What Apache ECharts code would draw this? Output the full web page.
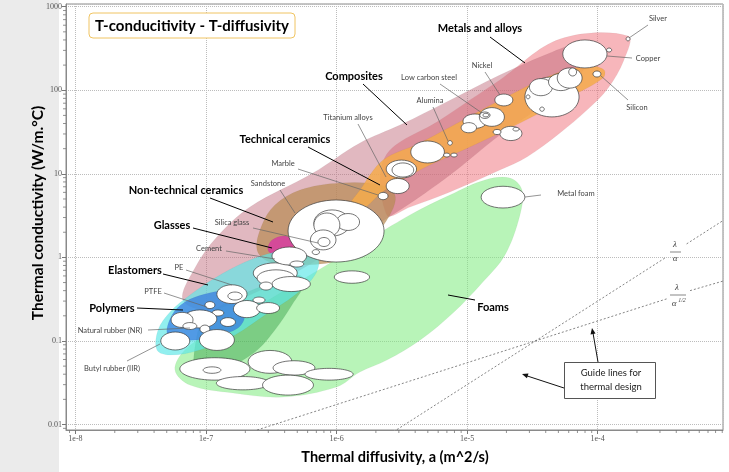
<!DOCTYPE html>
<html>
<head>
<meta charset="utf-8">
<script src="https://cdn.jsdelivr.net/npm/echarts/dist/echarts.min.js"></script>
<style>
  html, body { margin: 0; padding: 0; }
  #c { width: 729px; height: 472px; background: linear-gradient(to right, #ebebeb 0px, #ebebeb 59px, #ffffff 59px); }
</style>
</head>
<body>
<div id="c"></div>
<script>
// ---------------- axis extents & tick labels ----------------
const X_MIN = 8.46e-9, X_MAX = 9.12e-4;
const Y_MIN = 0.0086, Y_MAX = 1077;
const xTickValues = [1e-8, 1e-7, 1e-6, 1e-5, 1e-4];
const xTickLabels = ['1e-8', '1e-7', '1e-6', '1e-5', '1e-4'];
const yTickValues = [0.01, 0.1, 1, 10, 100, 1000];
const yTickLabels = ['0.01', '0.1', '1', '10', '100', '1000'];
const minorMantissas = [2, 3, 4, 5, 6, 7, 8, 9];
const xDecades = [1e-9, 1e-8, 1e-7, 1e-6, 1e-5, 1e-4];
const yDecades = [0.001, 0.01, 0.1, 1, 10, 100];

// ---------------- family envelopes: [diffusivity a (m2/s), conductivity (W/m.C)] ----------------
const envMetals = [[2.35e-6,15.9],[6.2e-6,44],[1.78e-5,133],[5.14e-5,410],[1.71e-4,446],[1.59e-4,230],[1.2e-4,106],[8.28e-5,58],[5.14e-5,30.8],[2.87e-5,15.9],[1.78e-5,11.1],[7.39e-6,6.06],[3.65e-6,4.0],[2.43e-6,3.22]];
const envComposites = [[6.65e-8,0.309],[8.22e-8,0.746],[1.21e-7,1.75],[2.17e-7,4.0],[6.59e-7,10.2],[1.51e-6,23.4],[3.06e-6,38.3],[7.39e-6,76],[1.78e-5,152],[3.95e-5,264],[6.7e-5,348],[8.72e-5,303],[7.3e-5,152],[4.31e-5,76],[1.78e-5,29.1],[7.39e-6,9.67],[3.06e-6,3.69],[1.27e-6,1.61],[5.25e-7,0.706],[2.17e-7,0.354],[1.07e-7,0.234]];
const envNonTechCeramics = [[2.46e-7,1.23],[2.68e-7,2.44],[3.37e-7,4.24],[5.25e-7,6.4],[1.06e-6,7.78],[2.15e-6,7.37],[2.8e-6,5.58],[2.56e-6,3.22],[1.8e-6,1.61],[1.06e-6,0.93],[5.25e-7,0.81],[3.09e-7,0.878]];
const envTechCeramics = [[1.16e-6,3.5],[1.51e-6,6.4],[2.27e-6,14.6],[4.35e-6,23.4],[9.3e-6,44],[2.13e-5,87.7],[4.88e-5,161],[8.72e-5,195],[1.12e-4,175],[1.1e-4,140],[6.13e-5,83],[2.54e-5,40.5],[1.05e-5,20.9],[4.35e-6,11.1],[2.35e-6,6.4],[1.65e-6,3.9],[1.27e-6,2.96]];
const envFoams = [[5.78e-8,0.045],[6.89e-8,0.078],[1.17e-7,0.135],[2.59e-7,0.269],[6.26e-7,0.615],[1.51e-6,1.41],[3.65e-6,3.22],[7.39e-6,5.58],[1.37e-5,8.44],[2.13e-5,8.9],[2.63e-5,6.4],[2.54e-5,3.22],[1.95e-5,1.07],[1.32e-5,0.507],[7.79e-6,0.216],[4.35e-6,0.102],[2.43e-6,0.059],[1.51e-6,0.0425],[1.0e-6,0.0281],[3.89e-7,0.0213],[1.61e-7,0.0238],[7.53e-8,0.0297]];
const envNatural = [[8.5e-8,0.0425],[8.38e-8,0.102],[9.8e-8,0.188],[1.53e-7,0.305],[2.83e-7,0.466],[5.06e-7,0.615],[5.73e-7,0.507],[4.55e-7,0.269],[3.37e-7,0.135],[2.37e-7,0.0737],[1.4e-7,0.047]];
const envGlasses = [[2.98e-7,1.23],[3.2e-7,1.61],[4.03e-7,1.8],[4.8e-7,1.53],[4.24e-7,1.16],[3.37e-7,1.07]];
const envElastomers = [[4.21e-8,0.078],[4.29e-8,0.135],[5.3e-8,0.222],[7.53e-8,0.354],[1.17e-7,0.566],[1.99e-7,0.878],[3.37e-7,1.16],[5.25e-7,1.23],[7.2e-7,0.98],[6.83e-7,0.615],[4.8e-7,0.354],[2.83e-7,0.204],[1.67e-7,0.118],[8.98e-8,0.078],[5.3e-8,0.068]];
const envPolymers = [[5.1e-8,0.118],[5.48e-8,0.204],[6.89e-8,0.292],[9.8e-8,0.364],[1.4e-7,0.395],[1.82e-7,0.326],[1.99e-7,0.204],[1.76e-7,0.143],[1.17e-7,0.114],[7.53e-8,0.102]];

// ---------------- material bubbles: [aMin, aMax, kMin, kMax] ----------------
const metalBubbles = [
  [5.4e-5,1.18e-4,185,400],[1.17e-4,1.28e-4,287,320],[1.65e-4,1.77e-4,390,435],[9.2e-5,1.06e-4,144,170],
  [2.77e-5,7.2e-5,48,144],[3.0e-5,4.5e-5,86,138],[4.2e-5,6.5e-5,99,159],[4.9e-5,7.6e-5,106,185],
  [6.0e-5,6.9e-5,148,185],[2.83e-5,3.03e-5,79,88],[3.6e-5,3.9e-5,56,63],[1.63e-5,2.24e-5,65,90],
  [9.3e-6,1.42e-5,35,52],[9.0e-6,1.18e-5,31,41],[1.24e-5,1.93e-5,37,62],[1.25e-5,1.5e-5,46,55],
  [1.32e-5,1.47e-5,48,53],[1.78e-5,2.63e-5,25,37],[1.58e-5,1.82e-5,29.5,34],[2.24e-5,2.5e-5,32.5,36]
];
const ceramicBubbles = [
  [7.1e-6,7.7e-6,22,25],[3.7e-6,6.7e-6,13.5,24.7],[6.6e-6,7.4e-6,15.9,17.7],[7.5e-6,8.4e-6,15.9,17.7],
  [2.4e-6,4.1e-6,8.9,14.6],[2.66e-6,3.9e-6,9.15,13.5],[2.4e-6,3.6e-6,5.8,8.8],[2.08e-6,2.48e-6,4.9,6.0],
  [4.25e-7,2.31e-6,0.88,4.86],[6.7e-7,1.27e-6,1.8,3.7],[1.0e-6,1.5e-6,2.1,3.35],[6.7e-7,1.06e-6,1.75,3.4],
  [6.3e-7,9.9e-7,1.23,2.13],[7.2e-7,8.9e-7,1.35,1.73],[6.5e-7,7.4e-7,1.08,1.24],
  [3.2e-7,5.9e-7,0.81,1.33],[4.4e-7,5.6e-7,0.767,0.905]
];
const polymerBubbles = [
  [2.3e-7,5.0e-7,0.49,0.86],[2.46e-7,4.8e-7,0.45,0.71],[3.2e-7,6.3e-7,0.39,0.59],[2.57e-7,3.23e-7,0.407,0.507],
  [9.6e-7,1.79e-6,0.49,0.69],[1.21e-7,2.06e-7,0.28,0.47],[1.47e-7,1.89e-7,0.309,0.385],[2.29e-7,2.83e-7,0.284,0.335],
  [1.62e-7,2.61e-7,0.19,0.305],[2.44e-7,3.66e-7,0.213,0.288],[9.8e-8,1.17e-7,0.244,0.296],[1.11e-7,1.37e-7,0.199,0.235],
  [6.65e-8,1.21e-7,0.143,0.235],[5.4e-8,7.95e-8,0.145,0.22],[1.29e-7,1.68e-7,0.149,0.19],[6.65e-8,8.5e-8,0.137,0.166],
  [8.98e-8,1.07e-7,0.124,0.155],[8.9e-8,1.65e-7,0.077,0.137],[4.5e-8,7.5e-8,0.078,0.128]
];
const foamBubbles = [
  [6.3e-8,2.17e-7,0.034,0.063],[9.5e-8,1.3e-7,0.041,0.049],[2.1e-7,4.55e-7,0.041,0.077],[3.26e-7,6.83e-7,0.039,0.058],
  [5.73e-7,1.34e-6,0.034,0.047],[1.2e-7,3.06e-7,0.026,0.0375],[2.71e-7,6.65e-7,0.0225,0.039],[1.28e-5,2.77e-5,3.9,7.1]
];

// ---------------- guide lines ----------------
const guideKOverA_1 = [[2.9e-6,0.0087],[3.3e-4,0.99]];
const guideKOverA_2 = [[4.8e-4,1.45],[9.1e-4,2.75]];
const guideKOverSqrtA_1 = [[2.46e-7,0.0086],[3.4e-4,0.32]];
const guideKOverSqrtA_2 = [[5.1e-4,0.4],[9.1e-4,0.52]];

// ---------------- build ----------------
const envelopes = [
  { pts: envMetals, fill: 'rgba(240,115,125,0.52)' },
  { pts: envComposites, fill: 'rgba(190,100,118,0.46)' },
  { pts: envNonTechCeramics, fill: 'rgba(185,140,85,0.72)' },
  { pts: envTechCeramics, fill: 'rgba(245,170,75,0.85)' },
  { pts: envFoams, fill: 'rgba(125,235,125,0.55)' },
  { pts: envNatural, fill: 'rgba(40,150,60,0.42)' },
  { pts: envGlasses, fill: 'rgba(215,60,160,0.85)' },
  { pts: envElastomers, fill: 'rgba(95,232,232,0.68)' },
  { pts: envPolymers, fill: 'rgba(55,120,225,0.72)' }
];
const bubbles = [].concat(foamBubbles, polymerBubbles, ceramicBubbles, metalBubbles);

const xMinorTicks = [];
xDecades.forEach(d => minorMantissas.forEach(m => { const v = d * m; if (v > X_MIN && v < X_MAX) xMinorTicks.push([v, Y_MIN]); }));
const yMinorTicks = [];
yDecades.forEach(d => minorMantissas.forEach(m => { const v = d * m; if (v > Y_MIN && v < Y_MAX) yMinorTicks.push([X_MIN, v]); }));

function nearestLabel(v, vals, labels) {
  const lv = Math.log10(v);
  for (let i = 0; i < vals.length; i++) if (Math.abs(Math.log10(vals[i]) - lv) < 0.01) return labels[i];
  return '';
}

const FONT = 'Lato, "Open Sans", sans-serif';
const SERIF = '"Liberation Serif", "DejaVu Serif", serif';

function txt(text, x, y, opts) {
  opts = opts || {};
  return { type: 'text', x: x, y: y, rotation: opts.rot || 0, z: 50, silent: true,
    style: { text: text, fill: opts.color || '#000', font: opts.font || ('bold 11px ' + FONT),
      align: opts.align || 'center', verticalAlign: 'middle', textAlign: opts.align || 'center', textVerticalAlign: 'middle' } };
}
function ln(x1, y1, x2, y2, color, w) {
  return { type: 'line', z: 49, silent: true, shape: { x1, y1, x2, y2 }, style: { stroke: color || '#000', lineWidth: w || 1 } };
}
function poly(points, color) {
  return { type: 'polygon', z: 49, silent: true, shape: { points }, style: { fill: color || '#000' } };
}

const famFont = 'bold 11px ' + FONT;
const matFont = '7.5px ' + FONT;
const matColor = '#444';
const leadGray = '#666';

const graphics = [
  // title box
  { type: 'rect', z: 48, silent: true, shape: { x: 89, y: 13, width: 206, height: 25, r: 4 }, style: { fill: '#fff', stroke: '#f0c462', lineWidth: 1 } },
  txt('T-conducitivity - T-diffusivity', 192, 26, { font: 'bold 15px ' + FONT }),
  // axis titles
  txt('Thermal conductivity (W/m.°C)', 38, 213, { font: 'bold 15.5px ' + FONT, rot: Math.PI / 2 }),
  txt('Thermal diffusivity, a (m^2/s)', 395, 457, { font: 'bold 14.5px ' + FONT }),
  // family labels
  txt('Metals and alloys', 480, 28, { font: famFont }), ln(490, 37, 525, 63),
  txt('Composites', 354, 76, { font: famFont }), ln(363, 84, 407, 125),
  txt('Technical ceramics', 285, 139, { font: famFont }), ln(308, 147, 380, 185),
  txt('Non-technical ceramics', 186, 190, { font: famFont }), ln(210, 198, 273, 222),
  txt('Glasses', 172, 225, { font: famFont }), ln(193, 228, 272, 248),
  txt('Elastomers', 135, 270, { font: famFont }), ln(163, 274, 208, 285),
  txt('Polymers', 112, 308, { font: famFont }), ln(137, 308, 183, 310),
  txt('Foams', 493, 307, { font: famFont }), ln(475, 300, 448, 295),
  // material labels
  txt('Silver', 658, 19, { font: matFont, color: matColor }), ln(648, 25, 629, 38, leadGray, 0.7),
  txt('Copper', 648, 59, { font: matFont, color: matColor }), ln(607, 56, 632, 58, leadGray, 0.7),
  txt('Silicon', 637, 108, { font: matFont, color: matColor }), ln(628, 100, 601, 76, leadGray, 0.7),
  txt('Nickel', 482, 66, { font: matFont, color: matColor }), ln(485, 72, 500, 95, leadGray, 0.7),
  txt('Low carbon steel', 429, 78, { font: matFont, color: matColor }), ln(440, 84, 482, 113, leadGray, 0.7),
  txt('Alumina', 430, 101, { font: matFont, color: matColor }), ln(433, 107, 448, 141, leadGray, 0.7),
  txt('Titanium alloys', 348, 118, { font: matFont, color: matColor }), ln(358, 124, 386, 177, leadGray, 0.7),
  txt('Marble', 283, 164, { font: matFont, color: matColor }), ln(298, 169, 378, 195, leadGray, 0.7),
  txt('Sandstone', 268, 184, { font: matFont, color: matColor }), ln(280, 190, 295, 213, leadGray, 0.7),
  txt('Silica glass', 232, 223, { font: matFont, color: matColor }), ln(253, 228, 318, 243, leadGray, 0.7),
  txt('Cement', 209, 249, { font: matFont, color: matColor }), ln(226, 251, 275, 259, leadGray, 0.7),
  txt('PE', 179, 268, { font: matFont, color: matColor }), ln(186, 270, 232, 285, leadGray, 0.7),
  txt('PTFE', 153, 292, { font: matFont, color: matColor }), ln(164, 293, 207, 307, leadGray, 0.7),
  txt('Natural rubber (NR)', 110, 331, { font: matFont, color: matColor }), ln(148, 330, 190, 328, leadGray, 0.7),
  txt('Butyl rubber (IIR)', 112, 369, { font: matFont, color: matColor }), ln(127, 361, 160, 344, leadGray, 0.7),
  txt('Metal foam', 576, 194, { font: matFont, color: matColor }), ln(525, 197, 541, 195, leadGray, 0.7),
  // guide line labels
  txt('λ', 675, 245, { font: 'italic 9px ' + SERIF, color: '#444' }), ln(670, 252, 681, 252, '#555', 0.7),
  txt('α', 675, 259, { font: 'italic 9px ' + SERIF, color: '#444' }),
  txt('λ', 677, 288, { font: 'italic 9px ' + SERIF, color: '#444' }), ln(670, 295, 686, 295, '#555', 0.7),
  txt('α', 674, 304, { font: 'italic 9px ' + SERIF, color: '#444' }),
  txt('1/2', 682, 300, { font: 'italic 6px ' + SERIF, color: '#444' }),
  // guide box and arrows
  { type: 'rect', z: 48, silent: true, shape: { x: 564.5, y: 362.5, width: 91, height: 36 }, style: { fill: '#fff', stroke: '#555', lineWidth: 1 } },
  txt('Guide lines for', 611, 373, { font: '9.5px ' + FONT, color: '#222' }),
  txt('thermal design', 611, 387, { font: '9.5px ' + FONT, color: '#222' }),
  ln(564, 388, 527, 375.9, '#111', 1),
  poly([[522, 374], [528.5, 373.5], [526.9, 378.3]], '#111'),
  ln(598, 362, 593, 333, '#111', 1),
  poly([[592, 328], [595.5, 333.5], [590.5, 334.4]], '#111')
];

const option = {
  animation: false,
  backgroundColor: 'transparent',
  grid: { left: 66, right: 6, top: 4, bottom: 42, show: true, borderColor: '#8a8a8a', borderWidth: 1, backgroundColor: 'transparent' },
  xAxis: {
    type: 'log', logBase: 10, min: X_MIN, max: X_MAX,
    axisLine: { show: true, lineStyle: { color: '#8a8a8a', width: 1 } },
    axisTick: { show: true, length: 4, lineStyle: { color: '#777' } },
    axisLabel: { margin: 5, fontSize: 8, color: '#555', fontFamily: SERIF, showMinLabel: false, showMaxLabel: false,
      formatter: v => nearestLabel(v, xTickValues, xTickLabels) },
    splitLine: { show: true, lineStyle: { color: '#bcbcbc', type: 'dotted', width: 1 } }
  },
  yAxis: {
    type: 'log', logBase: 10, min: Y_MIN, max: Y_MAX,
    axisLine: { show: true, lineStyle: { color: '#8a8a8a', width: 1 } },
    axisTick: { show: true, length: 4, lineStyle: { color: '#777' } },
    axisLabel: { margin: 4, fontSize: 8, color: '#555', fontFamily: SERIF, showMinLabel: false, showMaxLabel: false,
      formatter: v => nearestLabel(v, yTickValues, yTickLabels) },
    splitLine: { show: true, lineStyle: { color: '#bcbcbc', type: 'dotted', width: 1 } }
  },
  graphic: { elements: graphics },
  series: [
    {
      type: 'custom', name: 'envelopes', silent: true, z: 2, clip: true,
      data: envelopes.map((e, i) => [e.pts[0][0], e.pts[0][1], i]),
      encode: { x: 0, y: 1 },
      renderItem: (params, api) => {
        const e = envelopes[api.value(2)];
        const pts = e.pts.map(p => api.coord(p));
        return { type: 'polygon', shape: { points: pts, smooth: 0.35 }, style: { fill: e.fill, stroke: 'rgba(0,0,0,0.06)', lineWidth: 0.6 } };
      }
    },
    { type: 'line', name: 'k/a', data: guideKOverA_1, symbol: 'none', silent: true, z: 3, lineStyle: { color: '#666', width: 0.8, type: [2, 2] } },
    { type: 'line', name: 'k/a b', data: guideKOverA_2, symbol: 'none', silent: true, z: 3, lineStyle: { color: '#666', width: 0.8, type: [2, 2] } },
    { type: 'line', name: 'k/sqrt(a)', data: guideKOverSqrtA_1, symbol: 'none', silent: true, z: 3, lineStyle: { color: '#666', width: 0.8, type: [2, 2] } },
    { type: 'line', name: 'k/sqrt(a) b', data: guideKOverSqrtA_2, symbol: 'none', silent: true, z: 3, lineStyle: { color: '#666', width: 0.8, type: [2, 2] } },
    {
      type: 'custom', name: 'materials', silent: true, z: 4, clip: true,
      data: bubbles, encode: { x: [0, 1], y: [2, 3] },
      renderItem: (params, api) => {
        const p1 = api.coord([api.value(0), api.value(3)]);
        const p2 = api.coord([api.value(1), api.value(2)]);
        return { type: 'ellipse',
          shape: { cx: (p1[0] + p2[0]) / 2, cy: (p1[1] + p2[1]) / 2, rx: Math.abs(p2[0] - p1[0]) / 2, ry: Math.abs(p2[1] - p1[1]) / 2 },
          style: { fill: '#ffffff', stroke: '#3a3a3a', lineWidth: 0.7 } };
      }
    },
    {
      type: 'custom', name: 'xMinor', silent: true, z: 5, clip: false,
      data: xMinorTicks, encode: { x: 0, y: 1 },
      renderItem: (params, api) => {
        const p = api.coord([api.value(0), api.value(1)]);
        return { type: 'line', shape: { x1: p[0], y1: p[1], x2: p[0], y2: p[1] + 3 }, style: { stroke: '#777', lineWidth: 0.8 } };
      }
    },
    {
      type: 'custom', name: 'yMinor', silent: true, z: 5, clip: false,
      data: yMinorTicks, encode: { x: 0, y: 1 },
      renderItem: (params, api) => {
        const p = api.coord([api.value(0), api.value(1)]);
        return { type: 'line', shape: { x1: p[0] - 3, y1: p[1], x2: p[0], y2: p[1] }, style: { stroke: '#777', lineWidth: 0.8 } };
      }
    }
  ]
};

const chart = echarts.init(document.getElementById('c'));
chart.setOption(option);
</script>
</body>
</html>
